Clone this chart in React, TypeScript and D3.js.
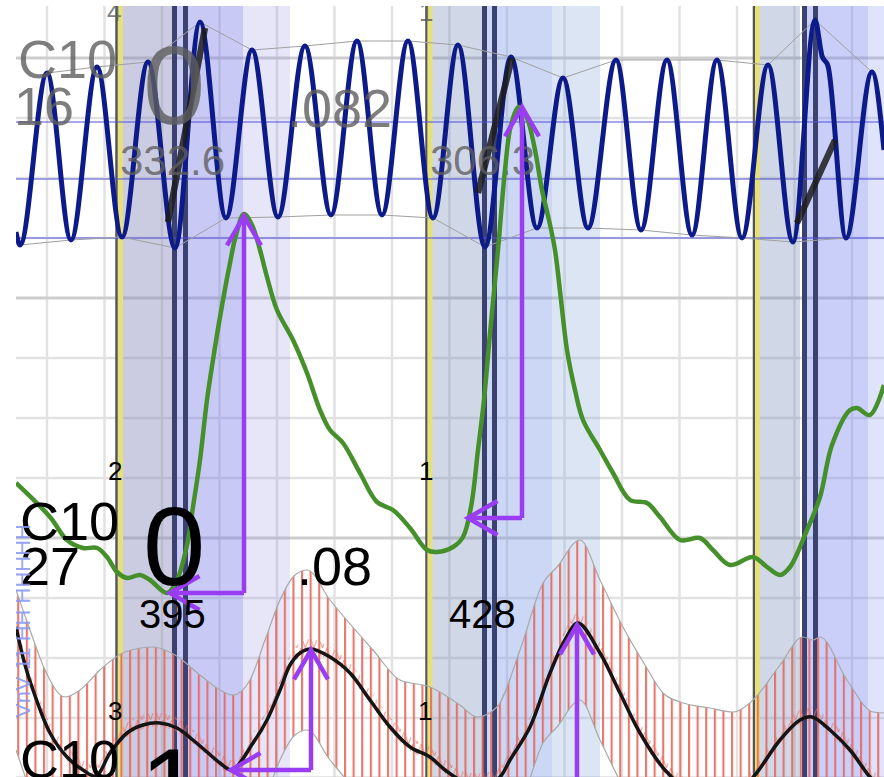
import React, { useRef, useEffect } from 'react'
import * as d3 from 'd3'

// time axis in ms, amplitude in display units
const gridTimes = d3.range(62, 1736, 115)
const gridLevels = d3.range(0, 780, 60)
const majorLevels = [0, 240, 480, 720]
const refLevels = [540, 599, 656]

const markerTimes = [201, 821, 1476]
const onsetTimes = [209, 828, 1483]
const navyTimes = [317, 339, 937, 957, 1577, 1599]
const preBands = [[214, 312], [832, 932], [1488, 1568]]
const mainBands = [[322, 454], [942, 1072], [1582, 1704]]
const tailBands = [[454, 548], [1072, 1168], [1704, 1760]]

// [t, v, kind]  p = peak, t = trough
const pulse: [number, number, string][] = [
  [0, 546, ''], [8, 533, 't'], [62, 705, 'p'], [110, 538, 't'], [162, 711, 'p'], [212, 541, 't'],
  [264, 716, 'p'], [318, 530, 't'], [368, 756, 'p'], [420, 560, 't'], [472, 728, 'p'], [524, 561, 't'],
  [578, 732, 'p'], [630, 563, 't'], [682, 737, 'p'], [732, 563, 't'], [784, 737, 'p'], [834, 560, 't'],
  [884, 733, 'p'], [938, 531, 't'], [990, 721, 'p'], [1042, 550, 't'], [1094, 700, 'p'], [1144, 550, 't'],
  [1200, 718, 'p'], [1250, 548, 't'], [1302, 718, 'p'], [1352, 543, 't'], [1402, 718, 'p'], [1452, 540, 't'],
  [1504, 713, 'p'], [1554, 536, 't'], [1598, 758, 'p'], [1612, 722, ''], [1624, 712, ''], [1660, 540, 't'],
  [1712, 706, 'p'], [1736, 628, '']
]

const upstrokes = [
  [[304, 556], [378, 750]],
  [[924, 585], [992, 720]],
  [[1562, 555], [1638, 638]]
]

const flow = [
  [0, 295], [68, 261], [102, 238], [134, 230], [162, 230], [182, 221], [202, 206], [222, 200], [248, 203],
  [268, 198], [302, 185], [322, 198], [342, 233], [354, 271], [368, 318], [382, 378], [394, 418], [408, 461],
  [428, 515], [440, 543], [456, 564], [472, 553], [488, 528], [502, 501], [522, 468], [554, 438], [582, 405],
  [608, 368], [628, 348], [654, 335], [688, 305], [722, 276], [754, 268], [788, 250], [822, 228], [842, 226],
  [874, 231], [894, 241], [910, 271], [924, 328], [936, 378], [948, 445], [964, 528], [978, 608], [990, 653],
  [1006, 671], [1022, 660], [1038, 628], [1052, 588], [1066, 558], [1078, 528], [1090, 478], [1102, 428],
  [1118, 388], [1134, 358], [1168, 328], [1194, 305], [1228, 278], [1262, 275], [1288, 261], [1328, 238],
  [1368, 240], [1394, 228], [1428, 213], [1474, 221], [1502, 211], [1528, 203], [1548, 211], [1582, 248],
  [1608, 281], [1632, 333], [1668, 368], [1682, 370], [1708, 363], [1736, 393]
]

const pressure = [
  [0, 151], [18, 113], [34, 88], [68, 45], [102, 21], [134, 8], [160, 2], [188, 25], [222, 45], [254, 53],
  [288, 55], [322, 50], [354, 38], [382, 26], [408, 15], [432, 8], [474, 35], [502, 58], [528, 88], [548, 113],
  [568, 125], [590, 129], [628, 121], [668, 105], [708, 78], [748, 51], [788, 31], [828, 21], [858, 8],
  [898, -4], [948, -4], [968, 1], [988, 18], [1028, 51], [1068, 105], [1098, 138], [1124, 155], [1168, 125],
  [1208, 85], [1248, 45], [1298, 8], [1348, -12], [1448, -12], [1478, 3], [1528, 38], [1568, 58], [1592, 61],
  [1628, 48], [1668, 28], [1708, 1], [1736, -12]
]

const bandTimes = [0, 28, 58, 98, 128, 168, 218, 274, 318, 368, 408, 434, 468, 498, 528, 558, 582, 628, 714,
  768, 828, 888, 922, 962, 1008, 1054, 1082, 1128, 1168, 1214, 1258, 1294, 1328, 1388, 1434, 1474, 1528,
  1574, 1594, 1608, 1662, 1714, 1736]
const bandUpper = [188, 148, 108, 81, 88, 108, 126, 131, 123, 103, 88, 83, 98, 138, 178, 203, 208, 178, 128,
  98, 91, 73, 61, 71, 128, 195, 211, 238, 198, 151, 113, 85, 76, 70, 66, 78, 113, 141, 138, 141, 98, 66, 65]
const bandLower = [28, -12, -52, -79, -72, -52, -34, -29, -37, -57, -72, -77, -62, -22, 18, 43, 48, 18, -32,
  -62, -69, -87, -99, -89, -32, 35, 51, 78, 38, -9, -47, -75, -84, -90, -94, -82, -47, -19, -22, -19, -62, -94, -95]

const arrows = [
  { corner: [456, 185], up: [456, 562], left: [308, 185] },
  { corner: [1012, 260], up: [1012, 671], left: [904, 260] },
  { corner: [590, 8], up: [590, 128], left: [430, 8] },
  { corner: [1122, -14], up: [1122, 153], left: null }
]

// text, t, v, size
const topLabels: [string, number, number, number][] = [
  ['4', 182, 757, 26], ['C10', 4, 700, 54], ['16', -4, 653, 54], ['0', 254, 654, 112],
  ['332.6', 208, 603, 42], ['.082', 542, 651, 54], ['1', 806, 757, 26], ['306.3', 828, 603, 42]
]
const midLabels: [string, number, number, number][] = [
  ['2', 184, 298, 26], ['C10', 8, 238, 54], ['27', 8, 193, 54], ['0', 254, 193, 112],
  ['395', 246, 150, 40], ['.08', 562, 193, 54], ['1', 806, 298, 26], ['428', 866, 150, 40],
  ['3', 184, 58, 26], ['C10', 8, 0, 54], ['1', 248, -48, 112], ['1', 804, 58, 26]
]

const preFill = [['#8c8cbe', 0.45], ['#6e82b4', 0.32], ['#6e82b4', 0.32]]
const mainFill = [['#7878e6', 0.4], ['#7896e6', 0.38], ['#7080f0', 0.38]]
const tailFill = [['#8c8ce0', 0.22], ['#8caadc', 0.3], ['#8090f0', 0.25]]

const FONT = '"Liberation Sans", Arial, sans-serif'

export default function App() {
  const ref = useRef<SVGSVGElement>(null)

  useEffect(() => {
    const svg = d3.select(ref.current)
    svg.selectAll('*').remove()

    const x = d3.scaleLinear().domain([0, 1736]).range([16, 884])
    const y = d3.scaleLinear().domain([0, 772]).range([778, 6])

    const defs = svg.append('defs')
    defs.append('clipPath').attr('id', 'plot')
      .append('rect').attr('x', 16).attr('y', 6).attr('width', 868).attr('height', 771)
    const hatch = defs.append('pattern').attr('id', 'hatch')
      .attr('patternUnits', 'userSpaceOnUse').attr('width', 8.6).attr('height', 20)
    hatch.append('rect').attr('x', 0).attr('y', 0).attr('width', 2.1).attr('height', 20)
      .attr('fill', '#e66a5e').attr('opacity', 0.9)
    const zig = defs.append('pattern').attr('id', 'zig')
      .attr('patternUnits', 'userSpaceOnUse').attr('width', 8.6).attr('height', 12)
    zig.append('path').attr('d', 'M0,0L4.3,12L8.6,0').attr('fill', 'none')
      .attr('stroke', '#e46d62').attr('stroke-width', 1)

    const g = svg.append('g').attr('clip-path', 'url(#plot)')
    g.append('rect').attr('x', 0).attr('y', 0).attr('width', 884).attr('height', 777).attr('fill', '#fff')

    // grid
    g.selectAll('.vgrid').data(gridTimes).join('line')
      .attr('x1', d => x(d)).attr('x2', d => x(d)).attr('y1', 0).attr('y2', 777)
      .attr('stroke', '#e2e2e2').attr('stroke-width', 2.5)
    g.selectAll('.hgrid').data(gridLevels).join('line')
      .attr('x1', 0).attr('x2', 884).attr('y1', d => y(d)).attr('y2', d => y(d))
      .attr('stroke', d => majorLevels.includes(d) ? '#cdcdcd' : '#e2e2e2')
      .attr('stroke-width', d => majorLevels.includes(d) ? 3 : 2.5)

    // beat bands
    const bands = (data, fills) => g.append('g').selectAll('rect').data(data).join('rect')
      .attr('x', d => x(d[0])).attr('width', d => x(d[1]) - x(d[0]))
      .attr('y', 0).attr('height', 777)
      .attr('fill', (d, i) => fills[i][0]).attr('fill-opacity', (d, i) => fills[i][1])
    bands(preBands, preFill)
    bands(mainBands, mainFill)
    bands(tailBands, tailFill)

    const vmark = (data, color, w) => g.append('g').selectAll('line').data(data).join('line')
      .attr('x1', d => x(d)).attr('x2', d => x(d)).attr('y1', 0).attr('y2', 777)
      .attr('stroke', color).attr('stroke-width', w)
    vmark(markerTimes, '#555', 2.5)
    vmark(onsetTimes, '#e6e07a', 5)
    vmark(navyTimes, '#3c4270', 5)

    // reference levels
    g.append('g').selectAll('line').data(refLevels).join('line')
      .attr('x1', 0).attr('x2', 884).attr('y1', d => y(d)).attr('y2', d => y(d))
      .attr('stroke', '#5050d8').attr('stroke-width', 1.2)

    // pulse envelope + wave
    const lin = d3.line<any>().x(d => x(d[0])).y(d => y(d[1]))
    g.append('path').attr('d', lin(pulse.filter(d => d[2] === 'p')))
      .attr('fill', 'none').attr('stroke', '#a0a0a0').attr('stroke-width', 1)
    g.append('path').attr('d', lin(pulse.filter(d => d[2] === 't')))
      .attr('fill', 'none').attr('stroke', '#a0a0a0').attr('stroke-width', 1)
    g.append('path').attr('d', lin.curve(d3.curveMonotoneX)(pulse))
      .attr('fill', 'none').attr('stroke', '#0d1b8a').attr('stroke-width', 5)
    lin.curve(d3.curveLinear)

    g.append('g').selectAll('line').data(upstrokes).join('line')
      .attr('x1', d => x(d[0][0])).attr('y1', d => y(d[0][1]))
      .attr('x2', d => x(d[1][0])).attr('y2', d => y(d[1][1]))
      .attr('stroke', '#1c1c1c').attr('stroke-opacity', 0.85).attr('stroke-width', 6.5)

    const label = (data, color, op) => g.append('g').selectAll('text').data(data).join('text')
      .attr('x', d => x(d[1])).attr('y', d => y(d[2]))
      .attr('font-size', d => d[3]).attr('font-family', FONT)
      .attr('fill', color).attr('fill-opacity', op)
      .text(d => d[0])
    label(topLabels, '#5e5e5e', 0.8)

    // hatched band
    const rows = bandTimes.map((t, i) => ({ t, hi: bandUpper[i], lo: bandLower[i] }))
    const area = d3.area<any>().x(d => x(d.t)).y0(d => y(d.lo)).y1(d => y(d.hi)).curve(d3.curveMonotoneX)
    g.append('path').attr('d', area(rows)).attr('fill', 'url(#hatch)')
    const edge = d3.line<any>().x(d => x(d.t)).curve(d3.curveMonotoneX)
    g.append('path').attr('d', edge.y(d => y(d.hi))(rows))
      .attr('fill', 'none').attr('stroke', '#a8a8a8').attr('stroke-width', 1.2)
    g.append('path').attr('d', edge.y(d => y(d.lo))(rows))
      .attr('fill', 'none').attr('stroke', '#a8a8a8').attr('stroke-width', 1.2)

    const zigArea = d3.area<any>().x(d => x(d[0])).y0(d => y(d[1] - 4)).y1(d => y(d[1] + 10))
      .curve(d3.curveCatmullRom)
    g.append('path').attr('d', zigArea(pressure)).attr('fill', 'url(#zig)').attr('opacity', 0.7)

    // flow + pressure
    const smooth = d3.line<any>().x(d => x(d[0])).y(d => y(d[1])).curve(d3.curveCatmullRom.alpha(0.5))
    g.append('path').attr('d', smooth(flow))
      .attr('fill', 'none').attr('stroke', '#45902a').attr('stroke-width', 4.5)
    g.append('path').attr('d', smooth(pressure))
      .attr('fill', 'none').attr('stroke', '#151515').attr('stroke-width', 3.5)

    // purple arrows
    const purple = '#9a3df2'
    const ag = g.append('g').attr('stroke', purple).attr('stroke-width', 4.5).attr('fill', 'none')
    const armL = 34, ang = Math.PI / 6
    arrows.forEach(a => {
      const cx = x(a.corner[0]), cy = y(a.corner[1])
      const ux = x(a.up[0]), uy = y(a.up[1])
      ag.append('path').attr('d', `M${cx},${cy}L${ux},${uy}`)
      ag.append('path').attr('d', `M${ux - armL * Math.sin(ang)},${uy + armL * Math.cos(ang)}L${ux},${uy}L${ux + armL * Math.sin(ang)},${uy + armL * Math.cos(ang)}`)
      if (a.left) {
        const lx = x(a.left[0]), ly = y(a.left[1])
        ag.append('path').attr('d', `M${cx},${cy}L${lx},${ly}`)
        ag.append('path').attr('d', `M${lx + armL * Math.cos(ang)},${ly - armL * Math.sin(ang)}L${lx},${ly}L${lx + armL * Math.cos(ang)},${ly + armL * Math.sin(ang)}`)
      }
    })

    label(midLabels, '#000', 1)

    g.append('text')
      .attr('transform', `translate(${x(28)},${y(60)}) rotate(-90)`)
      .attr('font-size', 22).attr('font-family', FONT)
      .attr('fill', '#8a9af0').attr('fill-opacity', 0.9)
      .text('VnV 11 HH HHHHH')
  }, [])

  return (
    <svg ref={ref} width={884} height={777} style={{ position: 'absolute', left: 0, top: 0 }} />
  )
}
